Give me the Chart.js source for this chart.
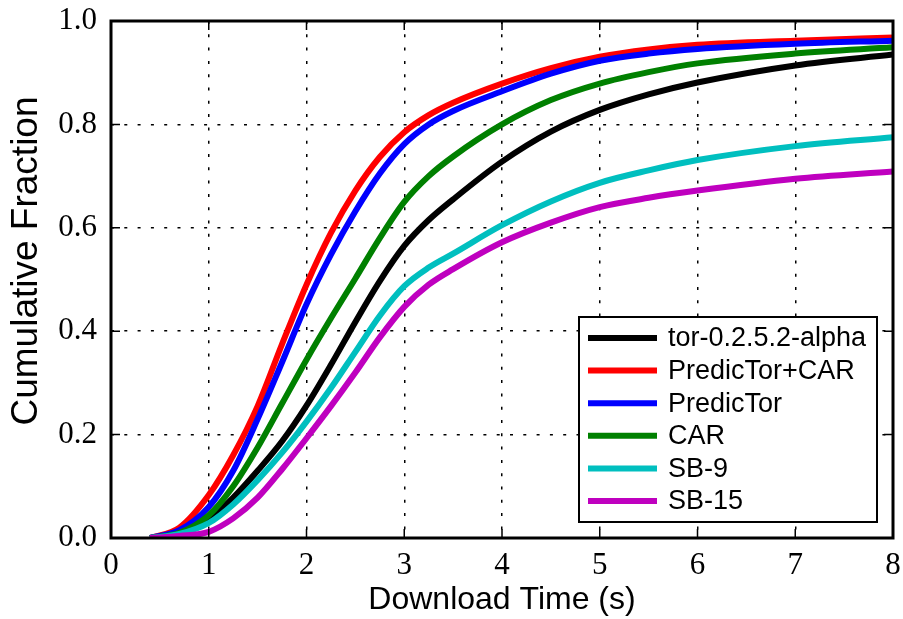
<html>
<head>
  <meta charset="UTF-8">
  <script src="https://cdn.jsdelivr.net/npm/chart.js@4.4.1/dist/chart.umd.min.js"></script>
  <style> body {padding: 0; margin: 0; background: #fff;} </style>
</head>
<body>
<canvas id="myChart" width="903" height="619"></canvas>
<script>

var times = [0.4, 0.7, 1, 1.25, 1.5, 1.75, 2, 2.25, 2.5, 2.75, 3, 3.25, 3.5, 4, 4.5, 5, 5.5, 6, 7, 8];

var torAlpha  = [0, 0.008, 0.035, 0.078, 0.13, 0.187, 0.256, 0.335, 0.418, 0.497, 0.565, 0.615, 0.655, 0.728, 0.786, 0.828, 0.858, 0.881, 0.914, 0.935];
var predicCar = [0, 0.02, 0.083, 0.16, 0.255, 0.375, 0.49, 0.59, 0.672, 0.737, 0.785, 0.818, 0.842, 0.879, 0.909, 0.931, 0.945, 0.954, 0.962, 0.968];
var predicTor = [0, 0.015, 0.06, 0.13, 0.23, 0.34, 0.452, 0.548, 0.632, 0.705, 0.762, 0.8, 0.826, 0.864, 0.898, 0.923, 0.937, 0.946, 0.956, 0.962];
var car       = [0, 0.01, 0.044, 0.1, 0.175, 0.26, 0.345, 0.425, 0.502, 0.58, 0.65, 0.7, 0.738, 0.8, 0.847, 0.879, 0.901, 0.918, 0.937, 0.949];
var sb9       = [0, 0.008, 0.029, 0.065, 0.112, 0.165, 0.225, 0.29, 0.36, 0.43, 0.487, 0.523, 0.55, 0.605, 0.651, 0.687, 0.711, 0.731, 0.758, 0.775];
var sb15      = [0, 0.004, 0.012, 0.038, 0.078, 0.133, 0.193, 0.255, 0.32, 0.388, 0.447, 0.49, 0.52, 0.572, 0.61, 0.64, 0.658, 0.672, 0.695, 0.709];

var seriesNames  = ['tor-0.2.5.2-alpha', 'PredicTor+CAR', 'PredicTor', 'CAR', 'SB-9', 'SB-15'];
var seriesValues = [torAlpha, predicCar, predicTor, car, sb9, sb15];
var seriesColors = ['#000000', '#ff0000', '#0000ff', '#008000', '#00bfbf', '#bf00bf'];

var xTicks = [0, 1, 2, 3, 4, 5, 6, 7, 8];
var yTicks = [0, 0.2, 0.4, 0.6, 0.8, 1.0];

function toPoints(vals) {
    return vals.map(function (v, i) { return {x: times[i], y: v}; });
}

var datasets = seriesNames.map(function (name, i) {
    return {
        label: name,
        data: toPoints(seriesValues[i]),
        borderColor: seriesColors[i],
        backgroundColor: seriesColors[i],
        borderWidth: 6,
        pointRadius: 0,
        fill: false,
        cubicInterpolationMode: 'monotone',
        order: seriesNames.length - i   // later series drawn on top
    };
});

function noScalePadding(s) {
    s.paddingTop = 0; s.paddingBottom = 0;
    s.paddingLeft = 0; s.paddingRight = 0;
}

// frame + inward tick marks like the matplotlib original
var framePlugin = {
    id: 'frame',
    afterDatasetsDraw: function (chart) {
        var ctx = chart.ctx, a = chart.chartArea;
        var xs = chart.scales.x, ys = chart.scales.y;
        ctx.save();
        ctx.strokeStyle = '#000';
        ctx.lineWidth = 1.5;
        ctx.setLineDash([]);
        xTicks.forEach(function (t) {
            var px = xs.getPixelForValue(t);
            ctx.beginPath();
            ctx.moveTo(px, a.bottom); ctx.lineTo(px, a.bottom - 9);
            ctx.moveTo(px, a.top); ctx.lineTo(px, a.top + 9);
            ctx.stroke();
        });
        yTicks.forEach(function (t) {
            var py = ys.getPixelForValue(t);
            ctx.beginPath();
            ctx.moveTo(a.left, py); ctx.lineTo(a.left + 9, py);
            ctx.moveTo(a.right, py); ctx.lineTo(a.right - 9, py);
            ctx.stroke();
        });
        ctx.lineWidth = 3;
        ctx.strokeRect(a.left, a.top, a.right - a.left, a.bottom - a.top);
        ctx.restore();
    },
    afterDraw: function (chart) {
        var ctx = chart.ctx;
        ctx.save();
        // y axis title
        ctx.translate(27, 261);
        ctx.rotate(-Math.PI / 2);
        ctx.fillStyle = '#000';
        ctx.font = '37px "Liberation Sans", Arial, sans-serif';
        ctx.textAlign = 'center';
        ctx.textBaseline = 'middle';
        ctx.fillText('Cumulative Fraction', 0, 0);
        ctx.restore();

        // legend box in lower right of the plot
        var bx = 579, by = 317, bw = 298, bh = 205;
        ctx.save();
        ctx.fillStyle = '#fff';
        ctx.fillRect(bx, by, bw, bh);
        ctx.strokeStyle = '#000';
        ctx.lineWidth = 2;
        ctx.strokeRect(bx, by, bw, bh);
        ctx.font = '27px "Liberation Sans", Arial, sans-serif';
        ctx.textBaseline = 'middle';
        chart.data.datasets.forEach(function (ds, i) {
            var cy = by + 21 + i * 32.6;
            ctx.strokeStyle = ds.borderColor;
            ctx.lineWidth = 6;
            ctx.beginPath();
            ctx.moveTo(588, cy);
            ctx.lineTo(657, cy);
            ctx.stroke();
            ctx.fillStyle = '#000';
            ctx.fillText(ds.label, 668, cy + 1);
        });
        ctx.restore();
    }
};

var ctx = document.getElementById('myChart').getContext('2d');
var myChart = new Chart(ctx, {
    type: 'line',
    data: { datasets: datasets },
    options: {
        responsive: false,
        animation: false,
        layout: { padding: { left: 0, right: 10, top: 21, bottom: 0 } },
        plugins: { legend: { display: false }, tooltip: { enabled: false } },
        scales: {
            x: {
                type: 'linear',
                min: 0, max: 8,
                afterBuildTicks: function (s) { s.ticks = xTicks.map(function (v) { return {value: v}; }); },
                afterFit: function (s) { s.height = 81; noScalePadding(s); },
                border: { display: false, dash: [3, 10.3] },
                grid: { color: '#000', lineWidth: 1.5, drawTicks: false },
                ticks: {
                    padding: 9,
                    color: '#000',
                    font: { family: '"Liberation Serif", serif', size: 31 }
                },
                title: {
                    display: true,
                    text: 'Download Time (s)',
                    color: '#000',
                    padding: { top: 0, bottom: 0 },
                    font: { family: '"Liberation Sans", Arial, sans-serif', size: 32 }
                }
            },
            y: {
                min: 0, max: 1,
                afterBuildTicks: function (s) { s.ticks = yTicks.map(function (v) { return {value: v}; }); },
                afterFit: function (s) { s.width = 111; noScalePadding(s); },
                border: { display: false, dash: [3, 10.3] },
                grid: { color: '#000', lineWidth: 1.5, drawTicks: false },
                ticks: {
                    padding: 14,
                    color: '#000',
                    font: { family: '"Liberation Serif", serif', size: 31 },
                    callback: function (v) { return v.toFixed(1); }
                },
                title: { display: false }
            }
        }
    },
    plugins: [framePlugin]
});

</script>
</body>
</html>
